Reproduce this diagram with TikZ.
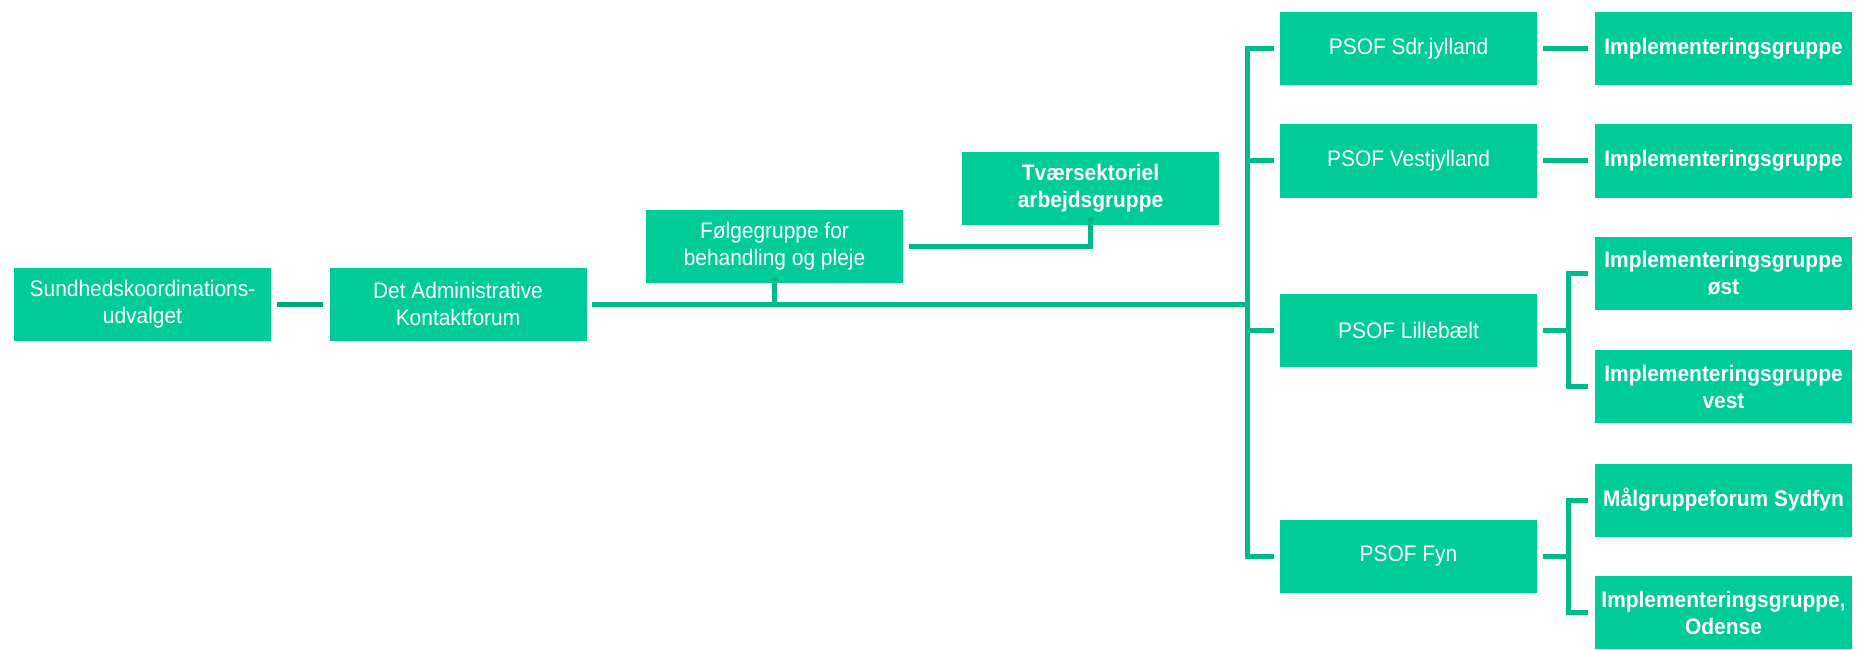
\documentclass[tikz,border=0pt]{standalone}
\usepackage{fontspec}
\setmainfont{Liberation Sans}[FakeStretch=0.93]
\definecolor{boxgreen}{RGB}{0,204,153}
\definecolor{linegreen}{RGB}{0,186,140}
\definecolor{darkline}{RGB}{0,166,124}
\begin{document}
\begin{tikzpicture}[x=1pt,y=-1pt,
  orgbox/.style={rectangle, fill=boxgreen, draw=none, minimum width=257pt, minimum height=73pt,
    inner sep=0pt, align=center, text=white, font=\fontsize{22.5}{27}\selectfont},
  boldbox/.style={orgbox, font=\fontsize{22.5}{27}\selectfont\bfseries},
  conn/.style={draw=linegreen, line width=5pt},
  conndark/.style={draw=darkline, line width=5pt}]
\useasboundingbox (0,0) rectangle (1858,650);
% nodes
\node[orgbox] (s1) at (142.5,304) {Sundhedskoordinations-\\udvalget};
\node[orgbox] (s2) at (458,304) {Det Administrative\\Kontaktforum};
\node[orgbox] (folg) at (774.5,246.5) {Følgegruppe for\\behandling og pleje};
\node[boldbox] (tvaer) at (1090.5,188.5) {Tværsektoriel\\arbejdsgruppe};
\node[orgbox] (p1) at (1408.5,48.5) {PSOF Sdr.jylland};
\node[orgbox] (p2) at (1408.5,161) {PSOF Vestjylland};
\node[orgbox] (p3) at (1408.5,330.5) {PSOF Lillebælt};
\node[orgbox] (p4) at (1408.5,556) {PSOF Fyn};
\node[boldbox] (i1) at (1723.5,48.5) {Implementeringsgruppe};
\node[boldbox] (i2) at (1723.5,161) {Implementeringsgruppe};
\node[boldbox] (i3a) at (1723.5,273.5) {Implementeringsgruppe\\øst};
\node[boldbox] (i3b) at (1723.5,386.5) {Implementeringsgruppe\\vest};
\node[boldbox] (i4a) at (1723.5,500) {Målgruppeforum Sydfyn};
\node[boldbox] (i4b) at (1723.5,612.5) {Implementeringsgruppe,\\Odense};
% helper coordinates
\coordinate (mainend) at (1247,304);
\coordinate (ptop) at (1247,48.5);
\coordinate (pbot) at (1247,556);
\coordinate (fstub) at (774.5,304);
\coordinate (tcorner) at (1090.5,246.5);
\coordinate (b3) at (1568,330.5);
\coordinate (b4) at (1568,556);
% connectors
\draw[conndark] ([xshift=6pt]s1.east) -- ([xshift=-6pt]s2.west);
\draw[conn] ([xshift=5pt]s2.east) -- (mainend);
\draw[conn] ([xshift=-6pt]p1.west) -- (ptop) -- (pbot) -- ([xshift=-6pt]p4.west);
\draw[conn] (ptop |- p2) -- ([xshift=-6pt]p2.west);
\draw[conn] (ptop |- p3) -- ([xshift=-6pt]p3.west);
\draw[conn] ([yshift=6pt]folg.south) -- (fstub);
\draw[conn] ([xshift=6pt]folg.east) -- (tcorner) -- ([yshift=8pt]tvaer.south);
\draw[conn] ([xshift=6pt]p1.east) -- ([xshift=-7pt]i1.west);
\draw[conn] ([xshift=6pt]p2.east) -- ([xshift=-7pt]i2.west);
\draw[conn] ([xshift=6pt]p3.east) -- (b3);
\draw[conn] ([xshift=-7pt]i3a.west) -- (b3 |- i3a) -- (b3 |- i3b) -- ([xshift=-7pt]i3b.west);
\draw[conn] ([xshift=6pt]p4.east) -- (b4);
\draw[conn] ([xshift=-7pt]i4a.west) -- (b4 |- i4a) -- (b4 |- i4b) -- ([xshift=-7pt]i4b.west);
\end{tikzpicture}
\end{document}
